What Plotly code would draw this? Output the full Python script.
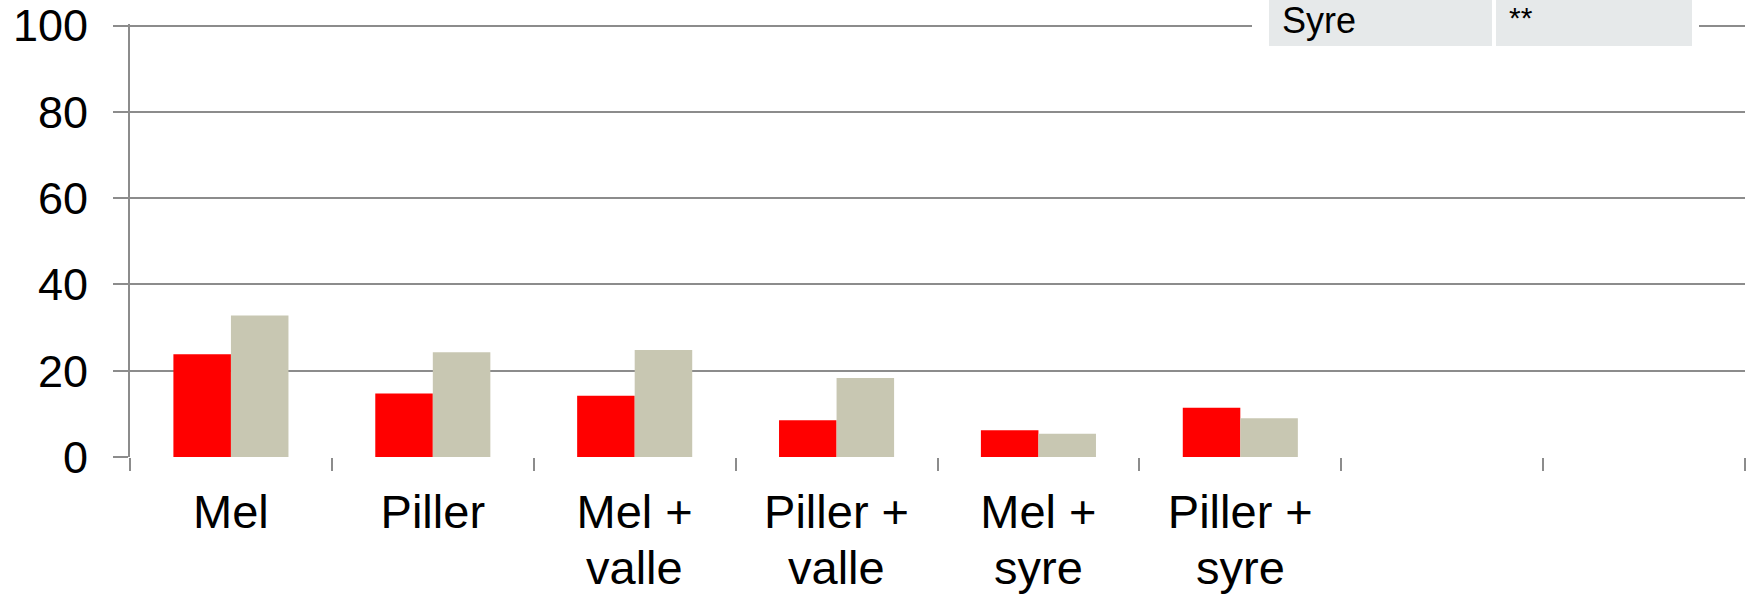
import plotly.graph_objects as go

cat_line1 = ["Mel", "Piller", "Mel +", "Piller +", "Mel +", "Piller +", "", ""]
cat_line2 = ["", "", "valle", "valle", "syre", "syre", "", ""]
series_red = [23.8, 14.7, 14.2, 8.5, 6.2, 11.4]
series_grey = [32.8, 24.3, 24.8, 18.3, 5.4, 9.0]
y_ticks = [0, 20, 40, 60, 80, 100]
table_cells = ["Syre", "**"]

W, H = 1748, 595
ml, mr, mt, mb = 130, 3, 24, 138
pw = W - ml - mr
ph = H - mt - mb
ymax = 100.4

xpos = list(range(len(cat_line1)))
font = "Liberation Sans, Arial, sans-serif"

fig = go.Figure()
fig.add_trace(go.Bar(x=xpos[:len(series_red)], y=series_red, marker=dict(color="#ff0000", line_width=0), name="a"))
fig.add_trace(go.Bar(x=xpos[:len(series_grey)], y=series_grey, marker=dict(color="#c8c7b2", line_width=0), name="b"))

boundaries = [i - 0.5 for i in range(len(cat_line1) + 1)]

fig.update_layout(
    width=W, height=H,
    margin=dict(l=ml, r=mr, t=mt, b=mb),
    plot_bgcolor="white", paper_bgcolor="white",
    showlegend=False,
    barmode="group", bargap=0.43, bargroupgap=0,
    font=dict(family=font, color="black", size=47),
    xaxis=dict(
        range=[-0.5, len(cat_line1) - 0.5],
        tickmode="array", tickvals=xpos, ticktext=cat_line1,
        ticks="outside", ticklen=14, tickcolor="rgba(0,0,0,0)",
        showgrid=False, zeroline=False, showline=False,
        tickfont=dict(size=47, family=font),
        automargin=False,
        ticklabeloverflow="allow",
        minor=dict(tickmode="array", tickvals=boundaries, ticks="outside", ticklen=13,
                   tickcolor="#8c8c8c", tickwidth=2, showgrid=False),
    ),
    yaxis=dict(
        range=[0, ymax], tickmode="array", tickvals=y_ticks,
        ticks="outside", ticklen=15, tickcolor="#8c8c8c", tickwidth=2,
        showgrid=True, gridcolor="#8c8c8c", gridwidth=2,
        zeroline=False, showline=True, linecolor="#8c8c8c", linewidth=2,
        tickfont=dict(size=45, family=font),
        ticklabelstandoff=16,
        ticklabeloverflow="allow",
        automargin=False,
    ),
)

def px_to_paper_x(px):
    return (px - ml) / pw

def px_to_paper_y(py):
    return (H - mb - py) / ph

# second lines of category labels
for xv, txt in zip(xpos, cat_line2):
    if txt:
        fig.add_annotation(xref="x", yref="paper", x=xv, y=px_to_paper_y(567),
                           xanchor="center", yanchor="middle", showarrow=False,
                           text=txt, font=dict(size=47, family=font, color="black"))

# white backing behind table
fig.add_shape(type="rect", xref="paper", yref="paper",
              x0=px_to_paper_x(1252), x1=px_to_paper_x(1699),
              y0=px_to_paper_y(50), y1=px_to_paper_y(-2),
              fillcolor="white", line_width=0, layer="above")
cells = [(1269, 1492), (1496, 1692)]
for (x0, x1), txt, i in zip(cells, table_cells, range(2)):
    fig.add_shape(type="rect", xref="paper", yref="paper",
                  x0=px_to_paper_x(x0), x1=px_to_paper_x(x1),
                  y0=px_to_paper_y(46), y1=px_to_paper_y(-2),
                  fillcolor="#e6e9ea", line_width=0, layer="above")
    fig.add_annotation(xref="paper", yref="paper",
                       x=px_to_paper_x(x0 + 12), y=px_to_paper_y(-1 if i == 0 else 0),
                       xanchor="left", yanchor="top", showarrow=False, borderpad=0,
                       text=txt, font=dict(size=36 if i == 0 else 30, family=font, color="black"))

fig.write_html("out.html", config={"displayModeBar": False},
               post_script="document.body.style.margin='0';document.body.style.overflow='hidden';")
